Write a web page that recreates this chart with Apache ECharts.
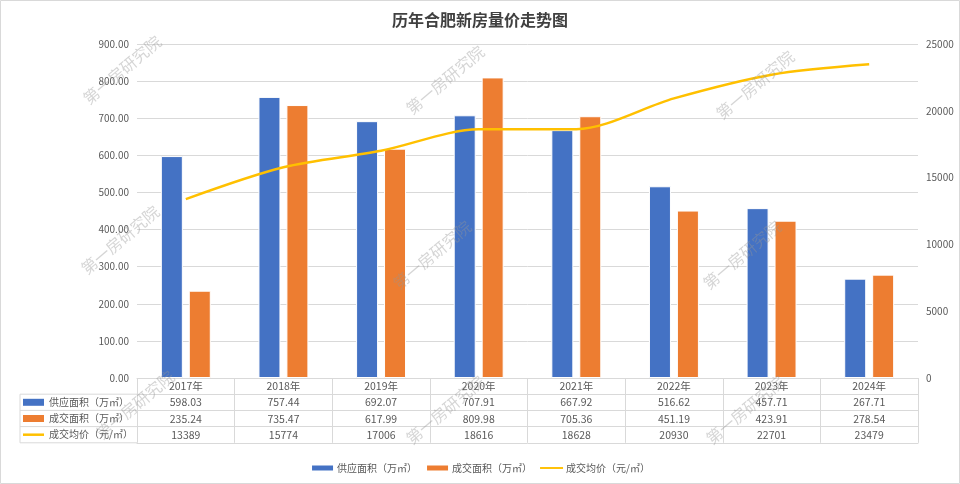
<!DOCTYPE html>
<html><head><meta charset="utf-8">
<script src="https://cdn.jsdelivr.net/npm/echarts@6/dist/echarts.min.js"></script>
<style>html,body{margin:0;padding:0;background:#fff}#c{width:960px;height:484px}</style>
</head><body><div id="c"></div>
<script>
const years = ['2017年','2018年','2019年','2020年','2021年','2022年','2023年','2024年'];
const supplyArea = [598.03, 757.44, 692.07, 707.91, 667.92, 516.62, 457.71, 267.71];
const salesArea = [235.24, 735.47, 617.99, 809.98, 705.36, 451.19, 423.91, 278.54];
const avgPrice = [13389, 15774, 17006, 18616, 18628, 20930, 22701, 23479];
const seriesNames = ['供应面积（万㎡）','成交面积（万㎡）','成交均价（元/㎡）'];
const colors = ['#4472C4','#ED7D31','#FFC000'];
const title = '历年合肥新房量价走势图';
const watermark = '第一房研究院';

const chart = echarts.init(document.getElementById('c'));
const GL = 137, GR = 42, GT = 44, GB = 106;
const rowH = 16.2;
const lineC = '#D9D9D9';
const txtC = '#595959';
const F = '"Noto Sans CJK SC", sans-serif';

function tableAxis(data, k, showLabel, ticks) {
  return {
    type: 'category', data: data, position: 'bottom', offset: k * rowH, gridIndex: 0,
    axisLine: {show: true, onZero: false, lineStyle: {color: lineC}},
    axisTick: {show: !!ticks, length: rowH * 4, lineStyle: {color: lineC}, alignWithLabel: false},
    axisLabel: {show: showLabel, color: txtC, fontSize: 10.5, margin: 3, fontFamily: F, interval: 0},
    splitLine: {show: false}
  };
}

const tableTop = 484 - GB;
const graphics = [
  {type: 'rect', shape: {x: 0.5, y: 0.5, width: 959, height: 483}, style: {fill: 'none', stroke: lineC, lineWidth: 1}, silent: true}
];
for (let i = 1; i <= 4; i++) {
  graphics.push({type: 'line', shape: {x1: 20, y1: tableTop + i * rowH, x2: GL, y2: tableTop + i * rowH}, style: {stroke: lineC, lineWidth: 1}});
}
graphics.push({type: 'line', shape: {x1: 20, y1: tableTop + rowH, x2: 20, y2: tableTop + 4 * rowH}, style: {stroke: lineC, lineWidth: 1}});
seriesNames.forEach((n, i) => {
  const cy = tableTop + (i + 1.5) * rowH;
  if (i < 2) {
    graphics.push({type: 'rect', shape: {x: 23, y: cy - 3.5, width: 21, height: 7}, style: {fill: colors[i]}});
  } else {
    graphics.push({type: 'line', shape: {x1: 23, y1: cy, x2: 44, y2: cy}, style: {stroke: colors[i], lineWidth: 2.5}});
  }
  graphics.push({type: 'text', x: 49, y: cy, style: {text: n, fill: txtC, font: '10px ' + F, textVerticalAlign: 'middle', verticalAlign: 'middle'}});
});
const wmPos = [[122,70],[445,80],[755,85],[120,240],[432,255],[742,255],[135,405],[445,410],[745,410]];
wmPos.forEach(p => {
  graphics.push({type: 'text', x: p[0], y: p[1], rotation: 40 * Math.PI / 180, z: 100, silent: true,
    style: {text: watermark, fill: 'rgba(150,150,150,0.4)', font: '16px ' + F, textAlign: 'center', align: 'center', textVerticalAlign: 'middle', verticalAlign: 'middle'}});
});

chart.setOption({
  animation: false,
  title: {text: title, left: 'center', top: 7, textStyle: {fontSize: 16, fontWeight: 'bold', color: '#404040', fontFamily: F}},
  grid: {left: GL, right: GR, top: GT, bottom: GB},
  legend: {top: 458, left: 'center', itemWidth: 23, itemHeight: 7, itemGap: 8,
    textStyle: {color: txtC, fontSize: 10, fontFamily: F, padding: [0, 0, 0, -2]},
    data: [
      {name: seriesNames[0], icon: 'rect'},
      {name: seriesNames[1], icon: 'rect'},
      {name: seriesNames[2], icon: 'path://M0,3 L30,3 L30,5.5 L0,5.5 Z'}
    ]},
  xAxis: [
    tableAxis(years, 0, true, true),
    tableAxis(supplyArea.map(v => v.toFixed(2)), 1, true, false),
    tableAxis(salesArea.map(v => v.toFixed(2)), 2, true, false),
    tableAxis(avgPrice.map(v => String(v)), 3, true, false),
    tableAxis(years, 4, false, false)
  ],
  yAxis: [
    {type: 'value', min: 0, max: 900, interval: 100, position: 'left',
      axisLabel: {formatter: v => v.toFixed(2), color: txtC, fontSize: 10, fontFamily: F, margin: 8},
      axisLine: {show: false}, axisTick: {show: false}, splitLine: {lineStyle: {color: lineC}}},
    {type: 'value', min: 0, max: 25000, interval: 5000, position: 'right',
      axisLabel: {formatter: v => String(v), color: txtC, fontSize: 10, fontFamily: F, margin: 8},
      axisLine: {show: false}, axisTick: {show: false}, splitLine: {show: false}}
  ],
  series: [
    {name: seriesNames[0], type: 'bar', data: supplyArea, xAxisIndex: 0, yAxisIndex: 0, barWidth: 22, barGap: '27%',
      itemStyle: {color: colors[0], borderColor: '#fff', borderWidth: 1}},
    {name: seriesNames[1], type: 'bar', data: salesArea, xAxisIndex: 0, yAxisIndex: 0, barWidth: 22, barGap: '27%',
      itemStyle: {color: colors[1], borderColor: '#fff', borderWidth: 1}},
    {name: seriesNames[2], type: 'line', data: avgPrice, xAxisIndex: 0, yAxisIndex: 1, smooth: 0.3, symbol: 'none',
      lineStyle: {color: colors[2], width: 2.5}, itemStyle: {color: colors[2]}}
  ],
  graphic: graphics
});
</script></body></html>
